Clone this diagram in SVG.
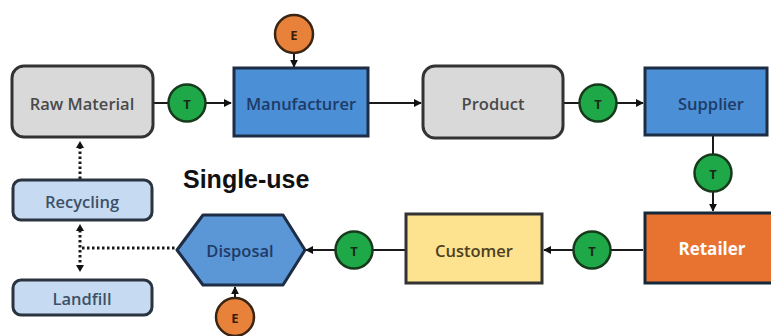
<svg xmlns="http://www.w3.org/2000/svg" width="771" height="336" viewBox="0 0 771 336">
<defs>
<marker id="ah" viewBox="0 0 10 10" refX="9" refY="5" markerWidth="4" markerHeight="4" orient="auto-start-reverse">
<path d="M0,0 L10,5 L0,10 z" fill="#111"/>
</marker>
<style>
.lbl{font-family:"Open Sans","Liberation Sans",sans-serif;font-weight:600;font-size:16.5px;text-anchor:middle;dominant-baseline:central}
.ln{stroke:#1a1a1a;stroke-width:2;fill:none}
.dot{stroke:#1a1a1a;stroke-width:3;fill:none;stroke-dasharray:2.5 2.5}
.t{fill:#1fa847;stroke:#173a1c;stroke-width:2.5}
.e{fill:#e8823a;stroke:#3a2414;stroke-width:2.5}
.ct{font-family:"Open Sans","Liberation Sans",sans-serif;font-weight:700;font-size:13px;text-anchor:middle;dominant-baseline:central}
</style>
</defs>
<rect width="771" height="336" fill="#ffffff"/>
<g id="connectors">
<line class="ln" x1="153" y1="103" x2="168" y2="103"/>
<line class="ln" x1="206" y1="103" x2="231" y2="103" marker-end="url(#ah)"/>
<line class="ln" x1="294" y1="54" x2="294" y2="67" marker-end="url(#ah)"/>
<line class="ln" x1="369" y1="103" x2="421" y2="103" marker-end="url(#ah)"/>
<line class="ln" x1="563" y1="103" x2="579" y2="103"/>
<line class="ln" x1="617" y1="103" x2="643" y2="103" marker-end="url(#ah)"/>
<line class="ln" x1="713" y1="136" x2="713" y2="154"/>
<line class="ln" x1="713" y1="192" x2="713" y2="211" marker-end="url(#ah)"/>
<line class="ln" x1="643" y1="250" x2="611" y2="250"/>
<line class="ln" x1="573" y1="250" x2="544" y2="250" marker-end="url(#ah)"/>
<line class="ln" x1="406" y1="250" x2="373" y2="250"/>
<line class="ln" x1="335" y1="250" x2="306" y2="250" marker-end="url(#ah)"/>
<line class="ln" x1="235" y1="298" x2="235" y2="287" marker-end="url(#ah)"/>
<line class="dot" x1="80" y1="179" x2="80" y2="145"/>
<path d="M80,141 l-4,7 h8 z" fill="#111"/>
<line class="dot" x1="80" y1="230" x2="80" y2="266"/>
<path d="M80,224 l-4,7 h8 z" fill="#111"/>
<path d="M80,272 l-4,-7 h8 z" fill="#111"/>
<line class="dot" x1="82" y1="248" x2="176" y2="248"/>
</g>
<g id="raw-material">
<rect x="12" y="66" width="141" height="71" rx="12" fill="#d9d9d9" stroke="#333" stroke-width="3"/>
<text class="lbl" x="82" y="103" fill="#4a4a4a">Raw Material</text>
</g>
<g id="t1"><circle class="t" cx="187" cy="103" r="18.5"/><text class="ct" x="187" y="104" fill="#1a2a1a">T</text></g>
<g id="manufacturer">
<rect x="234" y="68" width="134" height="68" fill="#4b8fd6" stroke="#1d2d45" stroke-width="3"/>
<text class="lbl" x="301" y="103" fill="#1e3b66">Manufacturer</text>
</g>
<g id="e1"><circle class="e" cx="294" cy="34" r="19"/><text class="ct" x="294" y="35" fill="#3a1e0c">E</text></g>
<g id="product">
<rect x="423" y="66" width="140" height="72" rx="12" fill="#d9d9d9" stroke="#333" stroke-width="3"/>
<text class="lbl" x="493" y="103" fill="#4a4a4a">Product</text>
</g>
<g id="t2"><circle class="t" cx="598" cy="103" r="18.5"/><text class="ct" x="598" y="104" fill="#1a2a1a">T</text></g>
<g id="supplier">
<rect x="645" y="68" width="122" height="67" fill="#4b8fd6" stroke="#1d2d45" stroke-width="3"/>
<text class="lbl" x="711" y="103" fill="#1e3b66">Supplier</text>
</g>
<g id="t3"><circle class="t" cx="713" cy="173" r="18.5"/><text class="ct" x="713" y="174" fill="#1a2a1a">T</text></g>
<g id="retailer">
<rect x="645" y="213" width="132" height="70" fill="#e87230" stroke="#13283a" stroke-width="3"/>
<text x="712" y="248" font-family="'Open Sans','Liberation Sans',sans-serif" font-weight="700" font-size="17px" text-anchor="middle" dominant-baseline="central" fill="#ffffff">Retailer</text>
</g>
<g id="t4"><circle class="t" cx="592" cy="250" r="18.5"/><text class="ct" x="592" y="251" fill="#1a2a1a">T</text></g>
<g id="customer">
<rect x="406" y="214" width="136" height="69" fill="#fde28f" stroke="#333" stroke-width="3"/>
<text class="lbl" x="474" y="250" fill="#4d4020">Customer</text>
</g>
<g id="t5"><circle class="t" cx="354" cy="250" r="18.5"/><text class="ct" x="354" y="251" fill="#1a2a1a">T</text></g>
<g id="disposal">
<polygon points="177,250 203,215 283,215 305,250 283,285 203,285" fill="#5b96d6" stroke="#1d2d45" stroke-width="3" stroke-linejoin="round"/>
<text class="lbl" x="240" y="250" fill="#1e3b66">Disposal</text>
</g>
<g id="e2"><circle class="e" cx="235" cy="317" r="19"/><text class="ct" x="235" y="318" fill="#3a1e0c">E</text></g>
<g id="recycling">
<rect x="13" y="180" width="139" height="40" rx="8" fill="#c6dbf1" stroke="#2a3340" stroke-width="3"/>
<text class="lbl" x="82" y="201" fill="#3d5066">Recycling</text>
</g>
<g id="landfill">
<rect x="13" y="280" width="139" height="35" rx="8" fill="#c6dbf1" stroke="#2a3340" stroke-width="3"/>
<text class="lbl" x="82" y="298" fill="#3d5066">Landfill</text>
</g>
<text x="183" y="188" font-family="'Liberation Sans',Arial,sans-serif" font-weight="700" font-size="25px" fill="#111">Single-use</text>
</svg>
